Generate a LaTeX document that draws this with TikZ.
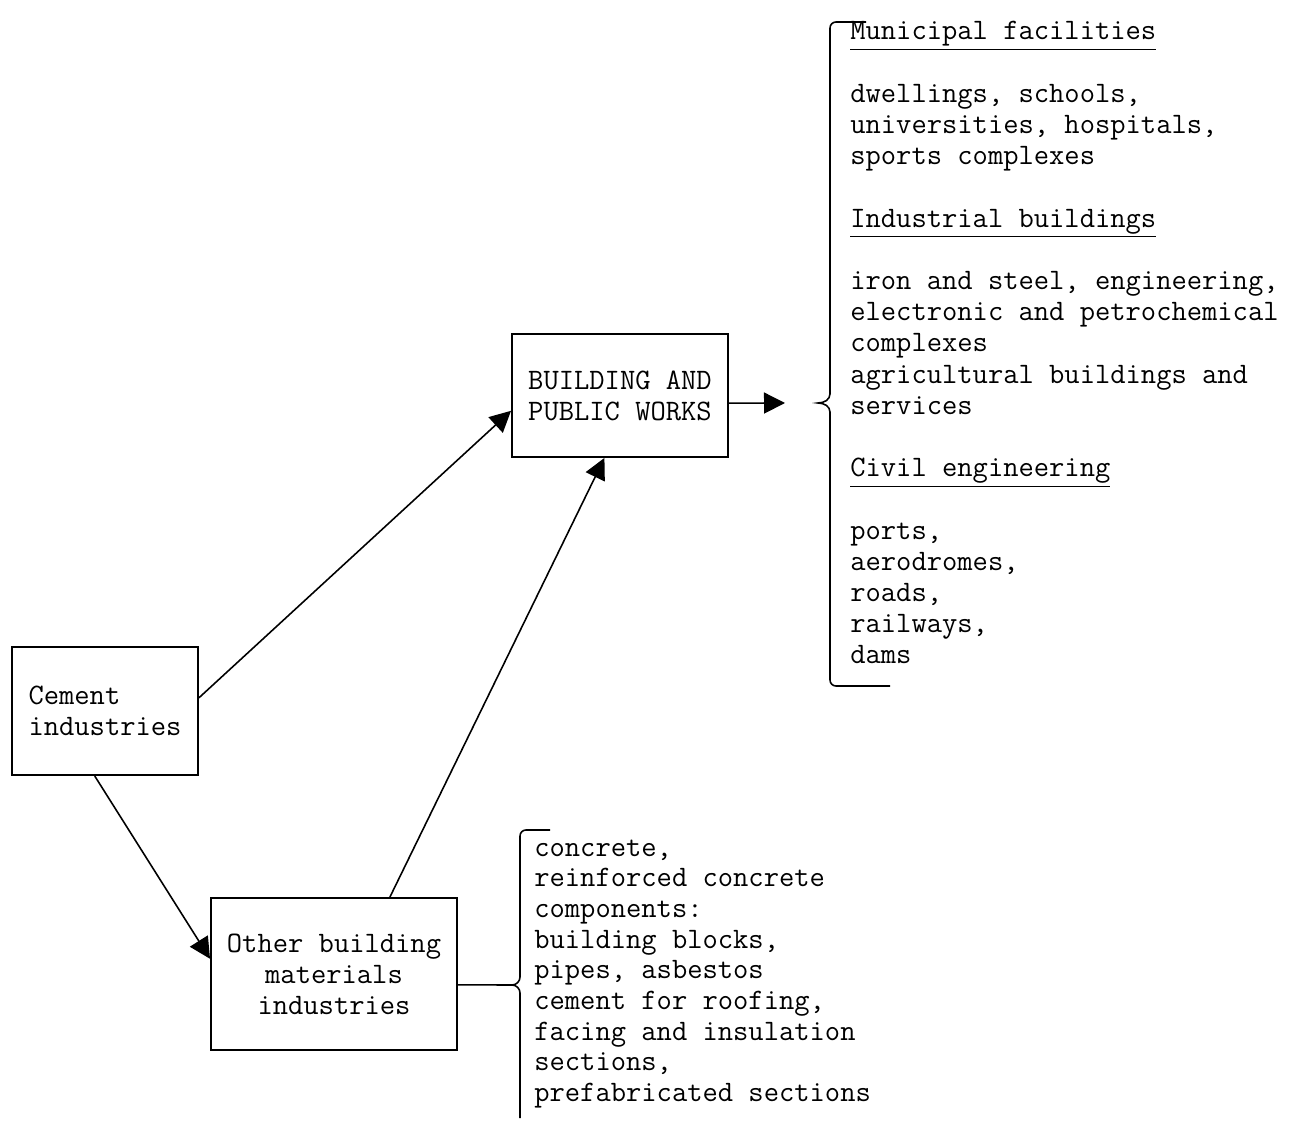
\documentclass[tikz,border=0pt]{standalone}
\usepackage{fontspec}
\usetikzlibrary{arrows.meta}

\begin{document}
\begin{tikzpicture}[
	box/.style={draw, line width=1.1pt, inner sep=0pt},
	flow/.style={->, line width=0.9pt},
	brace/.style={line width=0.9pt},
	item/.style={anchor=base west, inner sep=0pt},
	every node/.style={font=\ttfamily\fontsize{16.9pt}{17.6pt}\selectfont},
	>={Triangle[length=0.42cm,width=0.42cm]}]
	\useasboundingbox (0,0) rectangle (25.92,22.42);
	% the three boxes
	\node[box, minimum width=3.72cm, minimum height=2.56cm, align=left] (cem) at (2.10,8.20) {Cement\\industries};
	\node[box, minimum width=4.32cm, minimum height=2.46cm, align=center] (bpw) at (12.40,14.51) {BUILDING AND\\PUBLIC WORKS};
	\node[box, minimum width=4.92cm, minimum height=3.04cm, align=center] (oth) at (6.68,2.94) {Other building\\materials\\industries};
	% arrows between them
	\draw[flow] (cem.8) -- (bpw.188);
	\draw[flow] (cem.261) -- (oth.173);
	\draw[flow] (oth.54) -- (bpw.256);
	\coordinate (out) at (15.70,14.36);
	\draw[flow] (bpw.-4) -- (out);
	% braces
	\coordinate (bigtip) at (16.36,14.36);
	\coordinate (smalltip) at (10.24,2.72);
	\draw[brace] (17.32,21.98) -- (16.72,21.98) to[out=180,in=90] (16.60,21.86) -- (16.60,14.54) to[out=-90,in=0] (bigtip) to[out=0,in=90] (16.60,14.18) -- (16.60,8.82) to[out=-90,in=180] (16.72,8.70) -- (17.80,8.70);
	\draw[brace] (11.00,5.82) -- (10.52,5.82) to[out=180,in=90] (10.40,5.70) -- (10.40,2.88) to[out=-90,in=0] (smalltip) to[out=0,in=90] (10.40,2.56) -- (10.40,0.06);
	\draw[brace] (oth.-5) -- (smalltip);
	% uses of building and public works
	\foreach \n/\txt in {0/{\underline{Municipal facilities}}, 2/{dwellings, schools,}, 3/{universities, hospitals,}, 4/{sports complexes}, 6/{\underline{Industrial buildings}}, 8/{iron and steel, engineering,}, 9/{electronic and petrochemical}, 10/complexes, 11/{agricultural buildings and}, 12/services, 14/{\underline{Civil engineering}}, 16/{ports,}, 17/{aerodromes,}, 18/{roads,}, 19/{railways,}, 20/dams}
		\node[item] (use\n) at (17.00,{21.62-0.624*\n}) {\txt};
	% products of the other industries
	\foreach \txt [count=\n from 0] in {{concrete,}, {reinforced concrete}, {components:}, {building blocks,}, {pipes, asbestos}, {cement for roofing,}, {facing and insulation}, {sections,}, {prefabricated sections}}
		\node[item] (mat\n) at (10.68,{5.30-0.614*\n}) {\txt};
\end{tikzpicture}
\end{document}
